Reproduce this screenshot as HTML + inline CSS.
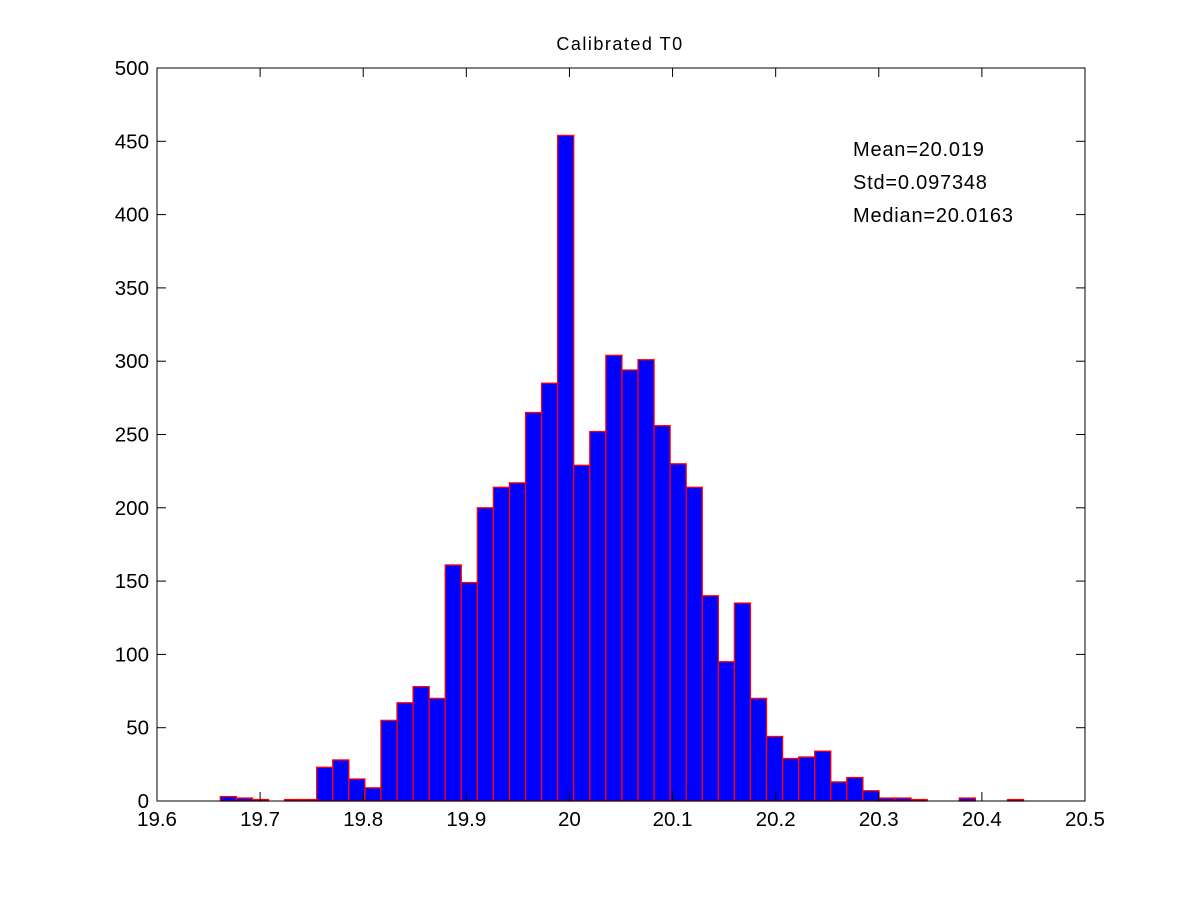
<!DOCTYPE html>
<html><head><meta charset="utf-8"><style>
body{margin:0;background:#fff;}
svg{display:block;font-family:"Liberation Sans",Arial,sans-serif;}
</style></head><body>
<svg id="chart" width="1200" height="900">
<rect x="0" y="0" width="1200" height="900" fill="#fff"/>
<text x="620" y="50" font-size="18" letter-spacing="1.5" text-anchor="middle">Calibrated T0</text>
<g id="bars"></g>
<g id="axes"></g>
<text x="853" y="156" font-size="20" letter-spacing="0.8">Mean=20.019</text>
<text x="853" y="189" font-size="20" letter-spacing="0.8">Std=0.097348</text>
<text x="853" y="222" font-size="20" letter-spacing="0.8">Median=20.0163</text>
</svg>
<script>
const counts = [3,2,1,0,1,1,23,28,15,9,55,67,78,70,161,149,200,214,217,265,285,454,229,252,304,294,301,256,230,214,140,95,135,70,44,29,30,34,13,16,7,2,2,1,0,0,2,0,0,1];
const binStart = 19.6614;
const binWidth = 0.01558;
const xTicks = [19.6,19.7,19.8,19.9,20,20.1,20.2,20.3,20.4,20.5];
const xTickLabels = ["19.6","19.7","19.8","19.9","20","20.1","20.2","20.3","20.4","20.5"];
const yTicks = [0,50,100,150,200,250,300,350,400,450,500];

const L=157,R=1085,T=68,B=801;
const xs = v => L + (v-19.6)/(20.5-19.6)*(R-L);
const ys = v => B - v/500*(B-T);
const NS="http://www.w3.org/2000/svg";
const bars=document.getElementById('bars'), axes=document.getElementById('axes');
function mk(tag,attrs,parent){const e=document.createElementNS(NS,tag);for(const k in attrs)e.setAttribute(k,attrs[k]);parent.appendChild(e);return e;}
counts.forEach((c,i)=>{
  if(c<=0) return;
  const x0=xs(binStart+i*binWidth), x1=xs(binStart+(i+1)*binWidth);
  const r=mk('rect',{x:x0,y:ys(c),width:x1-x0,height:ys(0)-ys(c),fill:'#0000ff',stroke:'#ff0000','stroke-width':1.3},bars);
  
  
});
const frame=mk('rect',{x:L,y:T,width:R-L,height:B-T,fill:'none',stroke:'#000','stroke-width':1},axes);


xTicks.forEach((v,i)=>{
  const x=xs(v);
  mk('line',{x1:x,y1:B,x2:x,y2:B-9,stroke:'#000'},axes);
  mk('line',{x1:x,y1:T,x2:x,y2:T+9,stroke:'#000'},axes);
  const t=mk('text',{x:x,y:B+25,'font-size':20.5,'text-anchor':'middle'},axes);
  t.textContent=xTickLabels[i];
  
  
});
yTicks.forEach(v=>{
  const y=ys(v);
  mk('line',{x1:L,y1:y,x2:L+9,y2:y,stroke:'#000'},axes);
  mk('line',{x1:R,y1:y,x2:R-9,y2:y,stroke:'#000'},axes);
  const t=mk('text',{x:L-8,y:y+7,'font-size':20.5,'text-anchor':'end'},axes);
  t.textContent=String(v);
  
  
});
</script>
</body></html>
